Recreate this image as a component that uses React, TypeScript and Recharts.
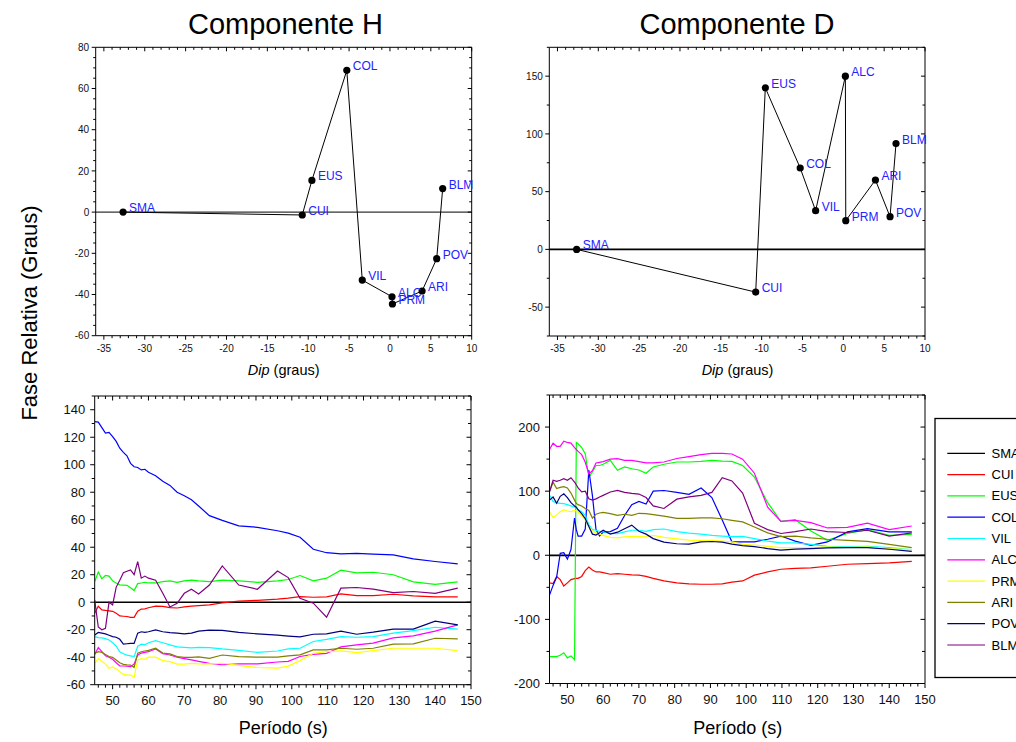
import React from 'react';
import { LineChart, Line, XAxis, YAxis, ReferenceLine, LabelList } from 'recharts';

const W = 1016;
const H = 742;
const FONT = 'Arial, "Liberation Sans", Helvetica, sans-serif';

// ---------- Top panels: relative phase vs dip ----------
const stations = ['SMA', 'CUI', 'EUS', 'COL', 'VIL', 'ALC', 'PRM', 'ARI', 'POV', 'BLM'];
const dipDeg = [-32.65, -10.73, -9.55, -5.28, -3.39, 0.25, 0.3, 3.93, 5.72, 6.45];
const phaseDipH = [0, -1.4, 15.4, 68.8, -33, -41.1, -44.6, -38.3, -22.6, 11.4];
const phaseDipD = [0, -37, 139.9, 70.5, 33.5, 150, 24.9, 60.1, 28.3, 91.6];

// ---------- Bottom-left: component H vs period ----------
const periodH = [45, 46, 47, 48, 49, 50, 51, 52, 53, 54, 55, 56, 57, 58, 59, 60,
  62, 64, 66, 68, 70, 72, 74, 77,
  80.6, 85.2, 90.4, 96, 99, 102.3, 106, 109.7, 113.7, 118.1, 122.7, 128.3, 133.9, 140, 146.3];
const cuiH = [-8, -3, -5.6, -6, -6.3, -6.6, -8, -10, -10.2, -10.4, -11, -11, -6.5, -5, -4.8, -4,
  -2.8, -3, -4, -4.2, -3.4, -2.8, -2.5, -2,
  -0.5, 0.8, 1.4, 2.3, 3, 4.1, 3.6, 3.9, 6, 4.8, 4.8, 5.8, 4.6, 3.9, 3.9];
const eusH = [15, 22, 17, 19.5, 19, 15.5, 14, 12.6, 12.5, 12.3, 10.5, 8.5, 13.5, 14, 14.5, 14,
  14, 15, 15.5, 14.5, 15.5, 16, 15.5, 15,
  16, 15.5, 14.5, 15.5, 16.5, 19.4, 15.5, 17.5, 23.3, 21.3, 21.8, 20, 14.8, 13, 14.8];
const colH = [131.3, 131, 127, 123, 123.5, 120.5, 117, 112, 109, 106.5, 101, 98.5, 98, 96.2, 96.7, 94.5,
  92, 88, 85, 80, 77.5, 74.5, 70, 63,
  59.5, 55.5, 54.5, 52, 50.2, 47.3, 38.5, 36, 35.2, 35.5, 35, 34.4, 31.5, 29.6, 27.9];
const vilH = [-25, -25.8, -26, -26.5, -27.5, -29.5, -32, -36, -37.5, -38.5, -39, -39.6, -32, -30.5, -31, -29.5,
  -28, -29.5, -31, -32.5, -32.8, -33.2, -32.8, -33,
  -34, -35, -36.5, -35.5, -34, -33.5, -28.6, -27, -25, -25.5, -25, -22.5, -20.6, -18.2, -19.6];
const alcH = [-38, -33, -36, -39, -40, -41.5, -44, -46.4, -46.4, -46.5, -46.9, -45, -38.5, -37, -36.5, -36,
  -34, -37.5, -38.4, -40, -41, -42, -43, -44.5,
  -45.5, -44.9, -44.9, -43.5, -43, -39.5, -38, -37.2, -32.5, -31, -29.8, -26, -24.5, -21, -16.5];
const prmH = [-44.4, -41, -43, -45, -48, -47, -48.5, -50.5, -52.5, -53, -53, -54.5, -42, -41, -41.5, -40,
  -40, -42.5, -43.2, -45, -45, -44.5, -44.8, -44.8,
  -44.4, -46, -47.5, -48, -46.5, -42.5, -37.1, -35.9, -35.4, -36.6, -35.2, -33.5, -33.5, -33.5, -35.2];
const ariH = [-37.2, -36, -36.5, -38, -39.5, -40.1, -42, -44, -45.2, -45.5, -45.7, -47.5, -37, -36, -35.5, -35,
  -33.5, -37, -37.6, -39.5, -40.1, -40.1, -39.8, -40.8,
  -38.4, -39.6, -40, -40, -39, -38.3, -34.7, -34.7, -33.5, -34.2, -33.5, -30.5, -30.3, -26.2, -26.7];
const povH = [-23.8, -22, -22.5, -23, -24, -25, -25.5, -27, -30.4, -30.2, -30, -30, -22.5, -21.5, -22, -21.5,
  -20.2, -21.5, -22.1, -22.5, -23, -22.5, -21, -20.3,
  -20.5, -22, -23, -24, -24.6, -25.2, -23.3, -23, -21, -23.3, -21.8, -19.6, -19.6, -13.8, -16.5];
const blmH = [1.6, -18, -20, -19, 0, -2, 11, 16, 21.5, 22.5, 23.5, 20, 29.5, 17.5, 19, 17.5,
  16, 6.5, -3.5, -0.8, 6.5, 9.4, 6, 12.5,
  26.4, 12.5, 9.4, 22.7, 17.9, 2.9, -0.7, -10.9, 10.2, 10.7, 9.5, 7, 7.8, 6.5, 10.2];

// ---------- Bottom-right: component D vs period ----------
const periodD = [45, 46, 47, 48, 49, 50, 51, 52, 52.5, 53, 54, 55, 56, 57, 58, 59, 60,
  62, 64, 66, 68, 70, 72, 74, 77,
  80.6, 84, 87.4, 90.4, 93.3, 96, 99, 102.3, 106, 109.7, 113.7, 118.1, 122.7, 128.3, 133.9, 140, 146.3];
const cuiD = [-43, -44, -33, -38, -48, -43, -38, -36.4, -36, -36, -33, -24, -18.5, -23, -26, -26, -27,
  -29.6, -28.6, -29.6, -30.5, -31, -33, -36, -40,
  -43, -44.5, -45.2, -45.2, -44.5, -42, -40, -31, -26, -21.8, -20.5, -19.7, -17.1, -14, -13, -11.9, -9.4];
const eusD = [-158, -158, -158, -156, -152, -160, -157, -163, 176, 174, 168, 158, 122, 130, 140, 140, 142,
  148, 132.5, 137.7, 135, 133, 128, 137.7, 142,
  145.5, 145.5, 146.5, 148, 147, 146.5, 140, 122, 82, 53, 55.5, 38, 23.4, 34, 40, 31, 32.7];
const colD = [-62, -47, -34, 3, 4, -6, 9, 58, 40, 30, 30, 41, 133, 93, 40, 30, 36,
  37, 42, 62, 79, 84, 80, 100, 101,
  98, 95, 105, 90, 55, 21, 20.8, 21, 25, 30, 22, 15.6, 20.8, 36.4, 41.6, 36.4, 36.4];
const vilD = [94, 84, 81.6, 81, 80.5, 79, 77, 75, 74, 71, 68, 62, 48, 40, 39, 37.5, 36.4,
  34, 33.8, 36.4, 39, 39, 37.4, 40, 41,
  37, 34.5, 33, 31, 30, 29, 29.6, 26, 22, 19.2, 19.2, 17.1, 14, 13, 14, 12, 8.8];
const alcD = [165, 175, 170, 170, 178, 176, 175, 168, 165, 162, 157, 145, 127, 132, 144, 145, 146,
  150, 150.6, 148, 148, 146, 144, 144, 145.5,
  151, 154, 157, 159, 159, 158, 150, 128, 75, 53, 54.5, 51, 42.6, 43.6, 50, 40, 45.7];
const prmD = [67.5, 59, 63, 68, 71, 69, 68, 70, 69, 67, 62, 55, 45, 38, 35, 33, 31,
  28, 27, 28.6, 29.6, 29, 28.6, 31, 28,
  25.5, 23.5, 22.8, 23.4, 22, 20.8, 17, 16, 14, 12, 12, 12, 13, 12, 13, 10.4, 8.8];
const ariD = [99, 114, 104, 106, 107, 105, 97, 86, 81, 79, 77, 73, 70, 58, 64, 66, 67,
  65, 62.3, 64, 62.3, 65.5, 65, 63.4, 61,
  57.5, 57.5, 58.2, 58.2, 57, 54.5, 52, 44, 35, 29, 30, 27, 25, 23.4, 21.8, 17.1, 12];
const povD = [86, 91, 81, 92, 96, 90, 82, 77, 75, 71, 65, 57, 45, 33, 31.5, 35, 39,
  33, 36, 41.5, 47, 37.4, 33, 26, 20.5,
  18, 17.5, 20.8, 21.5, 20.5, 17.5, 15, 13.5, 10.5, 8, 9.5, 10.4, 11.4, 12, 12, 9.4, 6.2];
const blmD = [99, 117, 115.3, 117, 119.5, 117, 121, 114, 110, 105, 99, 100, 88, 86, 88, 91, 93.5,
  98.7, 101.3, 98, 96.5, 95.5, 90, 77, 73,
  87.5, 91, 93.5, 98, 121, 116, 97, 50, 40, 34, 37, 41, 37, 35.5, 39, 30, 34.8];

const seriesNames = ['CUI', 'EUS', 'COL', 'VIL', 'ALC', 'PRM', 'ARI', 'POV', 'BLM'];
const legendNames = ['SMA', 'CUI', 'EUS', 'COL', 'VIL', 'ALC', 'PRM', 'ARI', 'POV', 'BLM'];
const colorOf: Record<string, string> = {
  SMA: '#000000', CUI: '#ff0000', EUS: '#00ff00', COL: '#0000ff', VIL: '#00ffff',
  ALC: '#ff00ff', PRM: '#ffff00', ARI: '#808000', POV: '#000080', BLM: '#800080',
};
const hSeries = [cuiH, eusH, colH, vilH, alcH, prmH, ariH, povH, blmH];
const dSeries = [cuiD, eusD, colD, vilD, alcD, prmD, ariD, povD, blmD];

const dipRows = stations.map((s, i) => ({ name: s, dip: dipDeg[i], H: phaseDipH[i], D: phaseDipD[i] }));
const buildRows = (period: number[], series: number[][]) =>
  period.map((p, i) => {
    const r: any = { p };
    seriesNames.forEach((n, k) => { r[n] = series[k][i]; });
    return r;
  });
const rowsH = buildRows(periodH, hSeries);
const rowsD = buildRows(periodD, dSeries);

const range = (a: number, b: number, s: number) => {
  const out: number[] = [];
  for (let v = a; v <= b + 1e-9; v += s) out.push(Math.round(v * 1000) / 1000);
  return out;
};

type Side = 'bottom' | 'top' | 'left' | 'right';
const makeTick = (side: Side, majors: number[], fs: number, majLen: number, minLen: number, gap: number) =>
  (props: any) => {
    const { x, y, payload } = props;
    const v = payload.value;
    const isMajor = majors.some((m) => Math.abs(m - v) < 1e-6);
    const len = isMajor ? majLen : minLen;
    let x2 = x;
    let y2 = y;
    if (side === 'bottom' || side === 'top') y2 = y + len;
    else x2 = x - len;
    let label: any = null;
    if (isMajor && side === 'bottom') {
      label = <text x={x} y={y + gap} textAnchor="middle" fontSize={fs} fontFamily={FONT} fill="#111">{v}</text>;
    } else if (isMajor && side === 'left') {
      label = <text x={x - gap} y={y + fs * 0.36} textAnchor="end" fontSize={fs} fontFamily={FONT} fill="#111">{v}</text>;
    }
    return (
      <g>
        <line x1={x} y1={y} x2={x2} y2={y2} stroke="#000" strokeWidth={1} />
        {label}
      </g>
    );
  };

type AxCfg = {
  xKey: string; xDom: [number, number]; yDom: [number, number];
  xTicks: number[]; xMaj: number[]; yTicks: number[]; yMaj: number[];
  fs: number; xGap: number; yGap: number; majLen: number; minLen: number;
};

// axis boxes (space reserved outside the plot rectangle)
const AX_B = 30;
const AX_T = 10;
const AX_L = 40;
const AX_R = 10;

const axes = (c: AxCfg) => [
  <XAxis key="xb" xAxisId="b" dataKey={c.xKey} type="number" domain={c.xDom} ticks={c.xTicks} interval={0}
    height={AX_B} tickSize={0} tickMargin={0} allowDataOverflow tickLine={false}
    axisLine={{ stroke: '#000', strokeWidth: 1 }} tick={makeTick('bottom', c.xMaj, c.fs, c.majLen, c.minLen, c.xGap)} />,
  <XAxis key="xt" xAxisId="t" orientation="top" dataKey={c.xKey} type="number" domain={c.xDom} ticks={c.xTicks} interval={0}
    height={AX_T} tickSize={0} tickMargin={0} allowDataOverflow tickLine={false}
    axisLine={{ stroke: '#000', strokeWidth: 1 }} tick={makeTick('top', c.xMaj, c.fs, c.majLen, c.minLen, 0)} />,
  <YAxis key="yl" yAxisId="l" type="number" domain={c.yDom} ticks={c.yTicks} interval={0}
    width={AX_L} tickSize={0} tickMargin={0} allowDataOverflow tickLine={false}
    axisLine={{ stroke: '#000', strokeWidth: 1 }} tick={makeTick('left', c.yMaj, c.fs, c.majLen, c.minLen, c.yGap)} />,
  <YAxis key="yr" yAxisId="r" orientation="right" type="number" domain={c.yDom} ticks={c.yTicks} interval={0}
    width={AX_R} tickSize={0} tickMargin={0} allowDataOverflow tickLine={false}
    axisLine={{ stroke: '#000', strokeWidth: 1 }} tick={makeTick('right', c.yMaj, c.fs, c.majLen, c.minLen, 0)} />,
];

type Rect = { left: number; right: number; top: number; bottom: number };
const marginOf = (r: Rect) => ({
  top: r.top - AX_T, left: r.left - AX_L, right: W - r.right - AX_R, bottom: H - r.bottom - AX_B,
});

const rectTL: Rect = { left: 95.7, right: 471.7, top: 47.3, bottom: 335.7 };
const rectTR: Rect = { left: 549.3, right: 925, top: 47.3, bottom: 336 };
const rectBL: Rect = { left: 94.7, right: 471, top: 396, bottom: 684.7 };
const rectBR: Rect = { left: 549.5, right: 925, top: 395, bottom: 683.5 };

const StationLabel = (props: any) => {
  const { x, y, value } = props;
  return (
    <text x={x + 6} y={y} fill="#2222ff" fontSize={12} fontFamily={FONT}>{value}</text>
  );
};

const Layer = ({ children }: { children: any }) => (
  <div style={{ position: 'absolute', left: 0, top: 0 }}>{children}</div>
);

const dipAx = (yDom: [number, number], yTicks: number[], yMaj: number[]): AxCfg => ({
  xKey: 'dip', xDom: [-36, 10], yDom,
  xTicks: range(-35, 10, 1), xMaj: range(-35, 10, 5), yTicks, yMaj,
  fs: 10, xGap: 16, yGap: 6.5, majLen: 4, minLen: 2.5,
});
const perAx = (yDom: [number, number], yTicks: number[], yMaj: number[]): AxCfg => ({
  xKey: 'p', xDom: [45, 150], yDom,
  xTicks: range(46, 150, 2), xMaj: range(50, 150, 10), yTicks, yMaj,
  fs: 13, xGap: 20, yGap: 9.5, majLen: 4.5, minLen: 3,
});

const dipPanel = (rect: Rect, key: 'H' | 'D', ax: AxCfg, zeroW: number) => (
  <Layer>
    <LineChart width={W} height={H} data={dipRows} margin={marginOf(rect)}>
      {axes(ax)}
      <ReferenceLine xAxisId="b" yAxisId="l" y={0} stroke="#000" strokeWidth={zeroW} />
      <Line xAxisId="b" yAxisId="l" type="linear" dataKey={key} stroke="#000" strokeWidth={1}
        dot={{ r: 3.6, fill: '#000', stroke: '#000', strokeWidth: 0 }} isAnimationActive={false}>
        <LabelList dataKey="name" content={StationLabel} />
      </Line>
    </LineChart>
  </Layer>
);

const periodPanel = (rect: Rect, rows: any[], ax: AxCfg, zeroW: number) => (
  <Layer>
    <LineChart width={W} height={H} data={rows} margin={marginOf(rect)}>
      {axes(ax)}
      <ReferenceLine xAxisId="b" yAxisId="l" y={0} stroke="#000" strokeWidth={zeroW} />
      {seriesNames.map((n) => (
        <Line key={n} xAxisId="b" yAxisId="l" type="linear" dataKey={n} stroke={colorOf[n]}
          strokeWidth={1.2} dot={false} isAnimationActive={false} />
      ))}
    </LineChart>
  </Layer>
);

export default function App() {
  return (
    <div style={{ position: 'absolute', left: 0, top: 0, width: W, height: H, overflow: 'hidden', background: '#fff' }}>
      {dipPanel(rectTL, 'H', dipAx([-60, 80], range(-60, 80, 5), range(-60, 80, 20)), 1)}
      {dipPanel(rectTR, 'D', dipAx([-75, 175], range(-75, 175, 25), range(-50, 150, 50)), 1.8)}
      {periodPanel(rectBL, rowsH, perAx([-60, 150], range(-60, 150, 10), range(-60, 140, 20)), 1.4)}
      {periodPanel(rectBR, rowsD, perAx([-200, 250], range(-200, 250, 50), range(-200, 200, 100)), 1.8)}
      <svg width={W} height={H} style={{ position: 'absolute', left: 0, top: 0, pointerEvents: 'none' }}
        fontFamily={FONT}>
        <text x={285.5} y={33.5} textAnchor="middle" fontSize={29} fill="#000">Componente H</text>
        <text x={737} y={33.5} textAnchor="middle" fontSize={29} fill="#000">Componente D</text>
        <text x={283.7} y={375} textAnchor="middle" fontSize={14.5} fill="#000">
          <tspan fontStyle="italic">Dip</tspan> (graus)
        </text>
        <text x={737.5} y={375} textAnchor="middle" fontSize={14.5} fill="#000">
          <tspan fontStyle="italic">Dip</tspan> (graus)
        </text>
        <text x={283.3} y={734} textAnchor="middle" fontSize={18} fill="#000">Período (s)</text>
        <text x={737.7} y={734} textAnchor="middle" fontSize={18} fill="#000">Período (s)</text>
        <text x={37} y={313} textAnchor="middle" fontSize={22} fill="#000" transform="rotate(-90 37 313)">
          Fase Relativa (Graus)
        </text>
        <rect x={935} y={418.5} width={110} height={259} fill="none" stroke="#000" strokeWidth={1.3} />
        {legendNames.map((n, i) => {
          const y = 453.3 + i * 21.3;
          return (
            <g key={n}>
              <line x1={947.3} x2={985} y1={y} y2={y} stroke={colorOf[n]} strokeWidth={1.2} />
              <text x={991.5} y={y + 4.5} fontSize={13} fill="#000">{n}</text>
            </g>
          );
        })}
      </svg>
    </div>
  );
}
